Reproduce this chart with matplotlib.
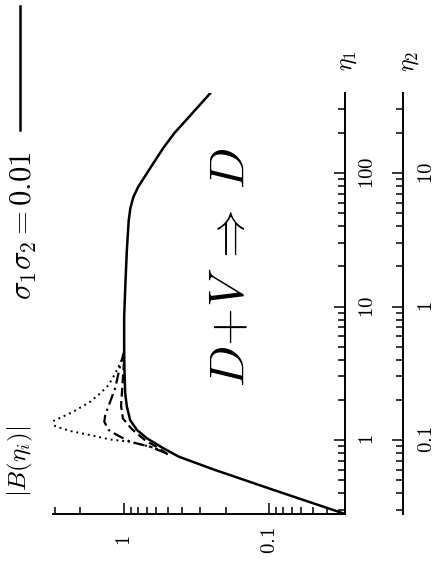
import numpy as np
import matplotlib
matplotlib.use("Agg")
import matplotlib.pyplot as plt
from matplotlib.lines import Line2D
from matplotlib.ticker import LogLocator, NullFormatter

plt.rcParams["mathtext.fontset"] = "cm"

eta_solid = [0.279, 0.43, 0.60, 0.75, 0.867, 1.03, 1.19, 1.41, 1.78, 2.25,
             3.34, 4.7, 8.3, 15, 26.5, 44.4, 55, 66, 79, 99, 125, 155, 200, 254, 397]
B_solid = [0.030, 0.098, 0.24, 0.42, 0.536, 0.697, 0.817, 0.909, 0.958, 0.984,
           0.995, 1.0, 1.0, 0.98, 0.958, 0.93, 0.905, 0.865, 0.80, 0.70, 0.61,
           0.536, 0.45, 0.369, 0.255]

eta_dot = [0.82, 0.89, 0.97, 1.01, 1.09, 1.17, 1.27, 1.39, 1.63, 1.93, 2.24,
           2.58, 3.16, 3.97, 5.0]
B_dot = [0.536, 0.66, 0.909, 1.25, 1.72, 2.36, 2.99, 3.07, 2.24, 1.72, 1.46,
         1.28, 1.15, 1.04, 0.99]

eta_dashdot = [0.80, 0.89, 0.97, 1.09, 1.19, 1.37, 1.54, 1.93, 2.47, 3.54, 4.6]
B_dashdot = [0.52, 0.66, 0.909, 1.12, 1.28, 1.37, 1.35, 1.25, 1.15, 1.07, 1.0]

eta_dash = [0.78, 0.87, 1.0, 1.2, 1.45, 1.8, 2.5, 4.0]
B_dash = [0.50, 0.58, 0.72, 0.88, 1.02, 1.05, 1.03, 1.0]

B_ticks = [1, 0.1]
B_ticklabels = ["$1$", "$0.1$"]
eta1_ticks = [1, 10, 100]
eta1_ticklabels = ["$1$", "$10$", "$100$"]
eta2_ticks = [0.1, 1, 10]
eta2_ticklabels = ["$0.1$", "$1$", "$10$"]

# ── figure (everything rotated by 90 degrees) ─────────────────────
fig = plt.figure(figsize=(4.42, 5.71), dpi=100)
ax = fig.add_axes([0.120, 0.0998, 0.6605, 0.7372])
ax2 = ax.twinx()   # second eta axis (eta_2 = eta_1 / 10)

ax.plot(B_solid, eta_solid, color="black", lw=1.8)
ax.plot(B_dot, eta_dot, color="black", lw=1.4, ls=(0, (1, 2)))
ax.plot(B_dashdot, eta_dashdot, color="black", lw=1.6, ls=(0, (5, 2, 1, 2)))
ax.plot(B_dash, eta_dash, color="black", lw=1.6, ls=(0, (4, 2)))

ax.set_xscale("log")
ax.set_yscale("log")
ax.set_xlim(3.09, 0.0301)
ax.set_ylim(0.279, 398)

for s in ["top", "left"]:
    ax.spines[s].set_visible(False)
for s in ["bottom", "right"]:
    ax.spines[s].set_linewidth(1.4)

ax.yaxis.tick_right()
ax.tick_params(which="both", direction="in", width=1.1, top=False, left=False,
               right=True, bottom=True, labelleft=False, labelright=True)
ax.tick_params(which="major", length=8)
ax.tick_params(which="minor", length=5)
ax.tick_params(axis="x", which="major", pad=19, labelsize=15)
ax.tick_params(axis="y", which="major", pad=9, labelsize=15)

ax.set_xticks(B_ticks)
ax.set_xticklabels(B_ticklabels, rotation=90, va="center")
ax.set_yticks(eta1_ticks)
ax.set_yticklabels(eta1_ticklabels, rotation=90, va="center", ha="left")
ax.xaxis.set_minor_locator(LogLocator(base=10, subs=np.arange(2, 10)))
ax.yaxis.set_minor_locator(LogLocator(base=10, subs=np.arange(2, 10)))
ax.xaxis.set_minor_formatter(NullFormatter())
ax.yaxis.set_minor_formatter(NullFormatter())

ax2.set_yscale("log")
ax2.set_ylim(0.0279, 39.8)
for s in ["top", "left", "bottom"]:
    ax2.spines[s].set_visible(False)
ax2.spines["right"].set_position(("outward", 41.8))
ax2.spines["right"].set_linewidth(1.4)
ax2.tick_params(which="both", direction="in", width=1.1)
ax2.tick_params(which="major", length=8, pad=9, labelsize=15)
ax2.tick_params(which="minor", length=5)
ax2.set_yticks(eta2_ticks)
ax2.set_yticklabels(eta2_ticklabels, rotation=90, va="center", ha="left")
ax2.yaxis.set_minor_locator(LogLocator(base=10, subs=np.arange(2, 10)))
ax2.yaxis.set_minor_formatter(NullFormatter())

# ── texts ────────────────────────────────────────────────────────
fig.text(347 / 442, 1 - 61 / 571, r"$\eta_1$", rotation=90, fontsize=17,
         ha="center", va="center")
fig.text(409 / 442, 1 - 61 / 571, r"$\eta_2$", rotation=90, fontsize=17,
         ha="center", va="center")
fig.text(20 / 442, 1 - 461 / 571, r"$|B(\eta_i)|$", rotation=90, fontsize=18,
         ha="center", va="center")
fig.text(230 / 442, 1 - 267 / 571, r"$D\!+\!V\;\Rightarrow\;D$", rotation=90,
         fontsize=35, ha="center", va="center")
fig.text(24 / 442, 1 - 300 / 571, r"$\sigma_1\sigma_2 = 0.01$", rotation=90,
         fontsize=22, ha="center", va="bottom")
fig.add_artist(Line2D([20 / 442, 20 / 442], [1 - 130 / 571, 1 - 6 / 571],
                      color="black", lw=1.8))

fig.savefig("out.png", dpi=100)
